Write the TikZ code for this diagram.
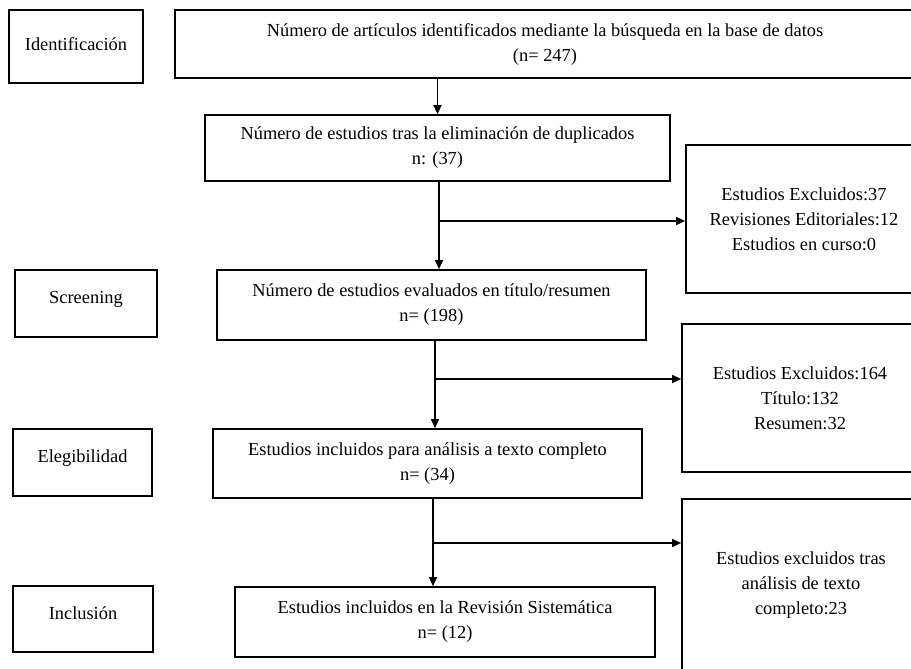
\documentclass[tikz,border=0pt]{standalone}
\usepackage{fontspec}
\setmainfont{Liberation Serif}
\usepackage{tikz}
\usetikzlibrary{arrows.meta,positioning,calc}

\begin{document}
\begin{tikzpicture}[
  x=1pt, y=-1pt,
  font=\fontsize{18.4}{25}\selectfont,
  box/.style={draw, line width=1.7pt, align=center, inner sep=0pt},
  phase/.style={box, text depth=12pt},
  flow/.style={-{Triangle[length=9pt, width=8pt]}, line width=1.3pt},
]
\useasboundingbox (0,0) rectangle (911,669);
\clip (0,0) rectangle (911,669);

% ---- phases ---------------------------------------------------------------
\node[phase, minimum width=134, minimum height=73, text depth=5pt] (ident) at (76,46.5) {Identificación};
\node[phase, minimum width=142, minimum height=67] (screen) at (86,303.5) {Screening};
\node[phase, minimum width=139, minimum height=67] (elig) at (82.5,462.5) {Elegibilidad};
\node[phase, minimum width=140, minimum height=66] (incl) at (83,619) {Inclusión};

% ---- main flow ------------------------------------------------------------
\node[box, minimum width=740, minimum height=68] (top) at (545,44)
  {Número de artículos identificados mediante la búsqueda en la base de datos\\(n= 247)};
\node[box, minimum width=465, minimum height=66] (dup) at (437.5,148)
  {Número de estudios tras la eliminación de duplicados\\n: (37)};
\node[box, minimum width=429, minimum height=70] (eval) at (431.5,305)
  {Número de estudios evaluados en título/resumen\\n= (198)};
\node[box, minimum width=429, minimum height=69] (full) at (427.5,463.5)
  {Estudios incluidos para análisis a texto completo\\n= (34)};
\node[box, minimum width=420, minimum height=70] (final) at (445,622)
  {Estudios incluidos en la Revisión Sistemática\\n= (12)};

% ---- excluded -------------------------------------------------------------
\node[box, minimum width=236, minimum height=148] (exA) at (804,219)
  {Estudios Excluidos:37\\Revisiones Editoriales:12\\Estudios en curso:0};
\node[box, minimum width=236, minimum height=148] (exB) at (800,398)
  {Estudios Excluidos:164\\Título:132\\Resumen:32};
\node[box, minimum width=238, minimum height=172] (exC) at (801,585)
  {Estudios excluidos tras\\análisis de texto\\completo:23};

% ---- connectors -----------------------------------------------------------
\draw[flow] (top.south -| dup.north) -- (dup.north);

\coordinate (j1) at (439,221);
\draw[flow] (j1 |- dup.south) -- (j1 |- eval.north);
\draw[flow] (j1) -- (j1 -| exA.west);

\coordinate (j2) at (435,379);
\draw[flow] (j2 |- eval.south) -- (j2 |- full.north);
\draw[flow] (j2) -- (j2 -| exB.west);

\coordinate (j3) at (433,543);
\draw[flow] (j3 |- full.south) -- (j3 |- final.north);
\draw[flow] (j3) -- (j3 -| exC.west);

\end{tikzpicture}
\end{document}
